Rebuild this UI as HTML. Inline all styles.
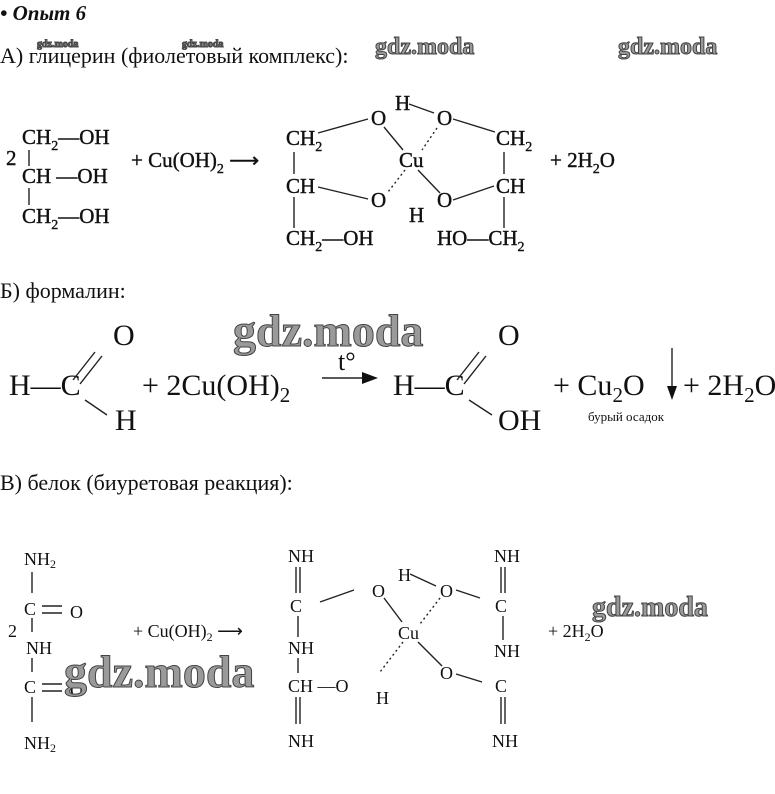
<!DOCTYPE html>
<html><head><meta charset="utf-8"><style>
html,body{margin:0;padding:0;background:#fff;}
svg{display:block;}
.s{font-family:"Liberation Serif",serif;fill:#111;}
.b{stroke:#111;stroke-width:0.4;}
.w{font-family:"Liberation Serif",serif;font-weight:bold;fill:#9a9a9a;stroke:#444;stroke-width:1;}
line{stroke:#222;stroke-width:1.4;}
.d{stroke-dasharray:2,3;}
</style></head><body>
<svg width="775" height="794" viewBox="0 0 775 794" xmlns="http://www.w3.org/2000/svg">
<!-- header -->
<text class="s" x="0" y="20" font-size="21" font-weight="bold" font-style="italic">• Опыт 6</text>
<text class="s" x="0" y="63" font-size="22">А) глицерин (фиолетовый комплекс):</text>
<text class="w" x="37" y="47" font-size="10" stroke-width="0.3">gdz.moda</text>
<text class="w" x="182" y="47" font-size="10" stroke-width="0.3">gdz.moda</text>
<text class="w" x="375" y="54" font-size="24">gdz.moda</text>
<text class="w" x="618" y="54" font-size="24">gdz.moda</text>

<!-- Part A -->
<g class="s b" font-size="21">
<text x="22" y="144">CH<tspan dy="6" font-size="14">2</tspan><tspan dy="-6">—OH</tspan></text>
<text x="6" y="165">2</text>
<text x="22" y="183">CH —OH</text>
<text x="22" y="223">CH<tspan dy="6" font-size="14">2</tspan><tspan dy="-6">—OH</tspan></text>
<text x="131" y="167">+ Cu(OH)<tspan dy="6" font-size="14">2</tspan><tspan dy="-6"> ⟶</tspan></text>
<text x="286" y="145">CH<tspan dy="6" font-size="14">2</tspan></text>
<text x="371" y="125">O</text>
<text x="395" y="110">H</text>
<text x="437" y="125">O</text>
<text x="496" y="145">CH<tspan dy="6" font-size="14">2</tspan></text>
<text x="399" y="167">Cu</text>
<text x="286" y="193">CH</text>
<text x="371" y="207">O</text>
<text x="409" y="222">H</text>
<text x="437" y="207">O</text>
<text x="496" y="193">CH</text>
<text x="286" y="245">CH<tspan dy="6" font-size="14">2</tspan><tspan dy="-6">—OH</tspan></text>
<text x="437" y="245">HO—CH<tspan dy="6" font-size="14">2</tspan></text>
<text x="550" y="167">+ 2H<tspan dy="6" font-size="14">2</tspan><tspan dy="-6">O</tspan></text>
</g>
<line x1="29" y1="150" x2="29" y2="166"/><line x1="29" y1="188" x2="29" y2="205"/>
<line x1="294" y1="152" x2="294" y2="174"/><line x1="294" y1="197" x2="294" y2="228"/>
<line x1="504" y1="152" x2="504" y2="174"/><line x1="504" y1="197" x2="504" y2="228"/>
<line x1="318" y1="133" x2="368" y2="119"/>
<line x1="384" y1="127" x2="403" y2="150"/>
<line x1="409" y1="104" x2="434" y2="113"/>
<line x1="453" y1="119" x2="495" y2="132"/>
<line class="d" x1="437" y1="128" x2="422" y2="150"/>
<line class="d" x1="405" y1="170" x2="388" y2="192"/>
<line x1="418" y1="170" x2="440" y2="193"/>
<line x1="318" y1="187" x2="368" y2="199"/>
<line x1="453" y1="200" x2="494" y2="186"/>

<!-- Part B -->
<text class="s" x="0" y="298" font-size="22">Б) формалин:</text>
<text class="w" x="233" y="346" font-size="46">gdz.moda</text>
<g class="s" font-size="30">
<text x="9" y="395">H—C</text>
<text x="113" y="345">O</text>
<text x="115" y="430">H</text>
<text x="142" y="395">+ 2Cu(OH)<tspan dy="7" font-size="21">2</tspan></text>
<text x="338" y="370" font-size="26">t°</text>
<text x="393" y="395">H—C</text>
<text x="498" y="345">O</text>
<text x="498" y="430">OH</text>
<text x="553" y="395">+ Cu<tspan dy="7" font-size="21">2</tspan><tspan dy="-7">O</tspan></text>
<text x="683" y="395">+ 2H<tspan dy="7" font-size="21">2</tspan><tspan dy="-7">O</tspan></text>
</g>
<text class="s" x="588" y="421" font-size="13">бурый осадок</text>
<line x1="73" y1="380" x2="95" y2="352" stroke-width="2.2"/><line x1="80" y1="384" x2="102" y2="356" stroke-width="2.2"/>
<line x1="85" y1="400" x2="107" y2="415" stroke-width="2.2"/>
<line x1="457" y1="380" x2="479" y2="352" stroke-width="2.2"/><line x1="464" y1="384" x2="486" y2="356" stroke-width="2.2"/>
<line x1="469" y1="400" x2="492" y2="415" stroke-width="2.2"/>
<line x1="322" y1="378" x2="365" y2="378" stroke-width="2.5"/>
<polygon points="378,378 362,372 362,384" fill="#111"/>
<line x1="672" y1="348" x2="672" y2="390" stroke-width="2.2"/>
<polygon points="672,400 667,386 677,386" fill="#111"/>

<!-- Part C -->
<text class="s" x="0" y="490" font-size="22">В) белок (биуретовая реакция):</text>
<g class="s" font-size="18">
<text x="24" y="565">NH<tspan dy="3" font-size="12">2</tspan></text>
<text x="24" y="615">C</text><text x="70" y="618">O</text>
<text x="8" y="637">2</text>
<text x="26" y="654">NH</text>
<text x="24" y="693">C</text><text x="70" y="696">O</text>
<text x="24" y="749">NH<tspan dy="3" font-size="12">2</tspan></text>
<text x="133" y="637">+ Cu(OH)<tspan dy="4" font-size="12">2</tspan><tspan dy="-4"> ⟶</tspan></text>
<text x="288" y="562">NH</text>
<text x="290" y="612">C</text>
<text x="288" y="654">NH</text>
<text x="288" y="692">CH —O</text>
<text x="376" y="704">H</text>
<text x="372" y="597">O</text>
<text x="398" y="581">H</text>
<text x="440" y="597">O</text>
<text x="398" y="639">Cu</text>
<text x="440" y="679">O</text>
<text x="494" y="562">NH</text>
<text x="495" y="612">C</text>
<text x="494" y="657">NH</text>
<text x="495" y="692">C</text>
<text x="492" y="747">NH</text>
<text x="548" y="637">+ 2H<tspan dy="4" font-size="12">2</tspan><tspan dy="-4">O</tspan></text>
<text x="288" y="747">NH</text>
</g>
<line x1="42" y1="606" x2="62" y2="606"/><line x1="42" y1="613" x2="62" y2="613"/>
<line x1="42" y1="684" x2="62" y2="684"/><line x1="42" y1="691" x2="62" y2="691"/>
<line x1="32" y1="572" x2="32" y2="593"/><line x1="32" y1="618" x2="32" y2="632"/>
<line x1="32" y1="658" x2="32" y2="672"/><line x1="32" y1="697" x2="32" y2="722"/>
<line x1="296" y1="567" x2="296" y2="593"/><line x1="300" y1="567" x2="300" y2="593"/>
<line x1="298" y1="616" x2="298" y2="637"/><line x1="298" y1="658" x2="298" y2="673"/>
<line x1="296" y1="697" x2="296" y2="724"/><line x1="300" y1="697" x2="300" y2="724"/>
<line x1="320" y1="602" x2="354" y2="590"/>
<line x1="384" y1="598" x2="402" y2="622"/>
<line x1="410" y1="574" x2="436" y2="586"/>
<line x1="456" y1="590" x2="480" y2="598"/>
<line class="d" x1="440" y1="598" x2="420" y2="624"/>
<line class="d" x1="403" y1="642" x2="380" y2="672"/>
<line x1="418" y1="642" x2="442" y2="666"/>
<line x1="456" y1="674" x2="482" y2="682"/>
<line x1="501" y1="567" x2="501" y2="593"/><line x1="505" y1="567" x2="505" y2="593"/>
<line x1="503" y1="616" x2="503" y2="640"/>
<line x1="501" y1="697" x2="501" y2="724"/><line x1="505" y1="697" x2="505" y2="724"/>
<text class="w" x="64" y="687" font-size="46">gdz.moda</text>
<text class="w" x="592" y="616" font-size="28">gdz.moda</text>
</svg>
</body></html>
